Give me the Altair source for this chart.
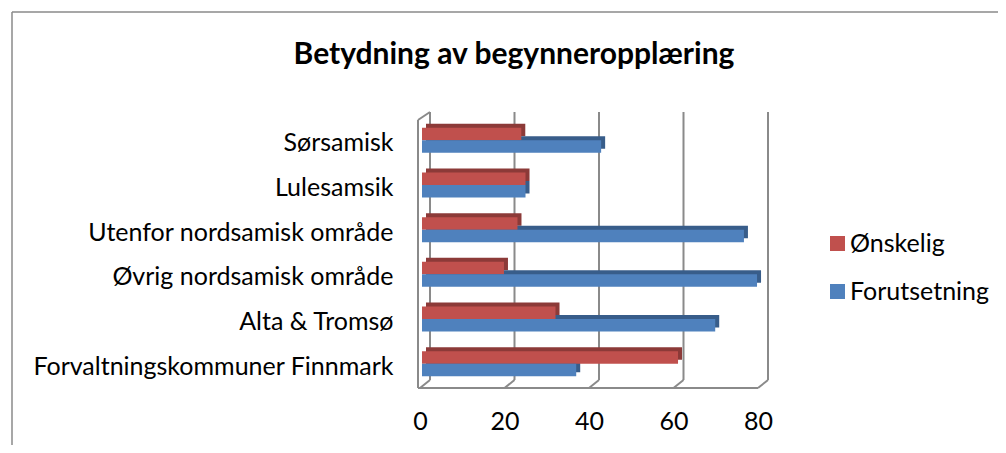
import altair as alt
import pandas as pd

categories = [
    "Sørsamisk",
    "Lulesamsik",
    "Utenfor nordsamisk område",
    "Øvrig nordsamisk område",
    "Alta & Tromsø",
    "Forvaltningskommuner Finnmark",
]
series = ["Ønskelig", "Forutsetning"]
onskelig = [23.5, 24.5, 22.6, 19.4, 31.6, 60.6]
forutsetning = [42.4, 24.5, 76.2, 79.3, 69.4, 36.5]
x_ticks = [0, 20, 40, 60, 80]
title_text = "Betydning av begynneropplæring"

rows = []
for c, a, b in zip(categories, onskelig, forutsetning):
    rows.append({"kategori": c, "serie": series[0], "verdi": a})
    rows.append({"kategori": c, "serie": series[1], "verdi": b})
df = pd.DataFrame(rows)
ticks_df = pd.DataFrame({"v": x_ticks})
one = pd.DataFrame({"k": [0]})

FONT = "Lato"
FS = 25
W, H = 338, 268
GRID = "#8a8a8a"
front_colors = ["#C0504D", "#4F81BD"]
dark_colors = ["#8C3A38", "#385D8A"]

xscale = alt.Scale(domain=[0, 80], nice=False, zero=True)
x_axis = alt.Axis(
    values=x_ticks, title=None, grid=False, domain=False, ticks=False, labelFlush=False,
    labelPadding=23, labelFontSize=FS, labelFont=FONT, labelColor="black",
)
y_axis = alt.Axis(
    title=None, domain=False, ticks=False, labelPadding=27, labelOffset=3,
    labelFontSize=FS, labelFont=FONT, labelColor="black", labelLimit=600,
)
yscale = alt.Scale(paddingInner=0.44, paddingOuter=0.22)

# outer frame (top and left edges, rest falls outside the picture)
frame_top = alt.Chart(one).mark_rule(color=GRID, strokeWidth=1.5).encode(
    x=alt.value(-408), x2=alt.value(600), y=alt.value(-106)
)
frame_left = alt.Chart(one).mark_rule(color=GRID, strokeWidth=1.5).encode(
    x=alt.value(-408), y=alt.value(-106), y2=alt.value(330)
)
title = alt.Chart(one).mark_text(
    text=title_text, font=FONT, fontSize=30, fontWeight="bold", color="black",
    align="center", baseline="alphabetic",
).encode(x=alt.value(94), y=alt.value(-54))

# back-plane gridlines
grid = alt.Chart(ticks_df).mark_rule(color=GRID, strokeWidth=2, xOffset=10).encode(
    x=alt.X("v:Q", scale=xscale, axis=x_axis), y=alt.value(-6), y2=alt.value(262)
)
# floor connectors
conn = alt.Chart(ticks_df).mark_rule(color=GRID, strokeWidth=2, x2Offset=10).encode(
    x=alt.X("v:Q", scale=xscale, axis=x_axis), x2="v:Q", y=alt.value(270), y2=alt.value(262)
)
front_bottom = alt.Chart(one).mark_rule(color=GRID, strokeWidth=2).encode(
    x=alt.value(-2), x2=alt.value(W), y=alt.value(270)
)
front_left = alt.Chart(one).mark_rule(color=GRID, strokeWidth=2).encode(
    x=alt.value(-2), y=alt.value(2), y2=alt.value(270)
)
left_top = alt.Chart(one).mark_rule(color=GRID, strokeWidth=2).encode(
    x=alt.value(-2), x2=alt.value(10), y=alt.value(2), y2=alt.value(-6)
)

shadow = alt.Chart(df).mark_bar(xOffset=6).encode(
    x=alt.X("verdi:Q", scale=xscale, axis=x_axis),
    y=alt.Y("kategori:N", sort=categories, scale=yscale, axis=y_axis),
    yOffset=alt.YOffset("serie:N", sort=series,
                        scale=alt.Scale(paddingInner=0, paddingOuter=0, range=[-4, 21])),
    color=alt.Color("serie:N", scale=alt.Scale(domain=series, range=dark_colors), legend=None),
)

front = alt.Chart(df).mark_bar(xOffset=2).encode(
    x=alt.X("verdi:Q", scale=xscale, axis=x_axis),
    y=alt.Y("kategori:N", sort=categories, scale=yscale, axis=y_axis),
    yOffset=alt.YOffset("serie:N", sort=series,
                        scale=alt.Scale(paddingInner=0, paddingOuter=0, range=[0, 25])),
    color=alt.Color(
        "serie:N",
        scale=alt.Scale(domain=series, range=front_colors),
        legend=alt.Legend(
            title=None, orient="none", legendX=405, legendY=113, padding=0,
            symbolType="square", symbolSize=225, symbolStrokeWidth=0,
            labelFont=FONT, labelFontSize=FS, labelColor="black",
            labelOffset=0, rowPadding=22, direction="vertical",
        ),
    ),
)

chart = (
    alt.layer(frame_top, frame_left, title, grid, conn, front_bottom, front_left, left_top, shadow, front)
    .resolve_scale(color="independent", yOffset="independent")
    .properties(
        width=W,
        height=H,
        padding={"left": 412, "top": 110, "right": 240, "bottom": 59},
        autosize=alt.AutoSizeParams(type="none"),
    )
    .configure_view(strokeWidth=0)
)

chart.save("out.html", embed_options={"renderer": "svg", "actions": False})
